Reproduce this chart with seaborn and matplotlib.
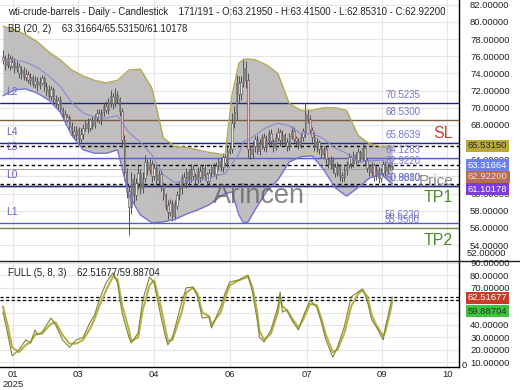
import matplotlib
matplotlib.use("Agg")
import numpy as np
import pandas as pd
import seaborn as sns
import matplotlib.pyplot as plt
from matplotlib.lines import Line2D

sns.set_theme(style="white")
plt.rcParams['font.family'] = ['Liberation Sans', 'DejaVu Sans']

# ---------------- data ----------------
first_open = 75.9
closes = [75.6, 75.0, 75.8, 74.9, 75.3, 74.6,
          74.8, 74.0, 74.4, 73.6, 73.9, 73.2, 73.5, 72.8, 73.1,
          72.6, 72.9, 73.4, 72.5, 72.0, 71.4, 72.1, 71.0, 70.4, 70.8, 69.8,
          69.2, 68.6, 68.9, 67.8, 67.3, 66.8, 67.5, 66.4, 66.9,
          67.6, 68.2, 67.7, 68.5, 68.0, 68.9, 69.3, 68.6,
          69.5, 70.2, 69.7, 70.6, 71.3, 70.5, 71.4, 71.0,
          69.6, 66.2, 62.5, 60.2, 58.4,
          61.6, 59.8, 61.2, 62.4, 60.6, 61.8, 63.6,
          62.8, 63.4, 62.0, 62.9, 61.6, 62.2, 61.0,
          59.8, 58.6, 57.8, 58.9, 57.4, 58.6, 59.8,
          60.6, 61.9, 61.2, 62.5, 61.7, 62.8, 62.1,
          61.6, 62.6, 61.9, 62.9, 62.2, 61.5, 62.4, 63.0, 62.3, 63.2, 63.7, 63.1,
          64.2, 63.6, 64.9, 65.2,
          68.2, 69.4, 72.8, 71.6, 72.9, 74.6, 73.2,
          65.2,
          64.6, 65.5, 66.3, 65.0, 65.8, 66.6, 65.4, 66.2, 67.0, 66.1, 65.4, 66.5, 67.1, 66.2,
          66.8, 66.0, 65.6, 66.7, 67.3, 66.4, 66.1, 65.7, 66.6, 67.2,
          69.2, 68.6, 67.4,
          66.6, 65.4, 66.0, 65.2, 64.6, 65.1, 64.0, 63.4, 63.9,
          63.0, 62.4, 63.2, 62.1, 61.9, 62.7,
          63.4, 64.2, 63.6, 64.4, 63.9, 64.8, 64.2, 65.3,
          63.9, 63.0, 62.5, 63.3, 62.0, 62.7, 61.8, 62.4,
          63.4, 62.6, 63.1, 63.2195, 62.922]
wick_up = [0.8, 0.5, 0.6, 0.4, 0.7, 0.5, 0.6, 0.4, 0.5, 0.3,
           0.6, 0.4, 0.5, 0.3, 0.6, 0.5, 0.7, 0.4, 0.3, 0.5,
           0.6, 0.4, 0.3, 0.5, 0.4, 0.6, 0.3, 0.5, 0.4, 0.3,
           0.5, 0.6, 0.4, 0.3, 0.7, 0.5, 0.4, 0.6, 0.3, 0.5,
           0.4, 0.6, 0.5, 0.4, 0.3, 0.6, 0.5, 0.8, 0.4, 0.9,
           0.5, 0.3, 0.4, 0.6, 0.5, 0.8, 0.9, 0.7, 0.6, 0.8,
           0.5, 0.7, 0.9, 0.4, 0.6, 0.5, 0.7, 0.4, 0.6, 0.5,
           0.4, 0.3, 0.6, 0.5, 0.4, 0.6, 0.5, 0.7, 0.4, 0.6,
           0.5, 0.4, 0.6, 0.5, 0.3, 0.5, 0.6, 0.4, 0.5, 0.3,
           0.5, 0.4, 0.6, 0.5, 0.4, 0.6, 0.5, 0.4, 0.7, 0.6,
           1.2, 0.8, 1.0, 0.9, 0.8, 1.2, 0.9, 0.8, 0.5, 0.6,
           0.4, 0.5, 0.6, 0.4, 0.5, 0.6, 0.4, 0.5, 0.3, 0.6,
           0.5, 0.4, 0.6, 0.3, 0.5, 0.4, 0.6, 0.5, 0.3, 0.4,
           0.5, 0.4, 1.4, 0.7, 0.5, 0.4, 0.6, 0.5, 0.3, 0.4,
           0.5, 0.4, 0.3, 0.5, 0.4, 0.6, 0.5, 0.3, 0.4, 0.5,
           0.4, 0.5, 0.3, 0.6, 0.4, 0.5, 0.3, 0.7, 0.4, 0.3,
           0.5, 0.4, 0.3, 0.5, 0.4, 0.6, 0.5, 0.3, 0.4, 0.2,
           0.1955]
wick_dn = [0.5, 0.6, 0.4, 0.5, 0.3, 0.6, 0.4, 0.5, 0.6, 0.4,
           0.5, 0.3, 0.6, 0.4, 0.5, 0.6, 0.4, 0.3, 0.5, 0.6,
           0.4, 0.5, 0.6, 0.3, 0.5, 0.4, 0.6, 0.5, 0.3, 0.5,
           0.6, 0.4, 0.5, 0.7, 0.4, 0.5, 0.3, 0.6, 0.4, 0.5,
           0.3, 0.5, 0.4, 0.6, 0.5, 0.3, 0.4, 0.5, 0.6, 0.4,
           0.5, 0.6, 0.8, 0.9, 0.7, 3.2, 0.8, 0.9, 0.6, 0.7,
           0.6, 0.5, 0.4, 0.6, 0.5, 0.7, 0.4, 0.6, 0.5, 0.7,
           0.6, 0.5, 0.8, 0.4, 0.6, 0.5, 0.4, 0.5, 0.6, 0.4,
           0.5, 0.6, 0.4, 0.5, 0.6, 0.4, 0.5, 0.3, 0.6, 0.5,
           0.4, 0.5, 0.3, 0.6, 0.4, 0.5, 0.6, 0.4, 0.5, 0.3,
           0.5, 0.6, 0.8, 0.9, 0.7, 0.5, 0.9, 1.0, 0.6, 0.5,
           0.6, 0.4, 0.5, 0.6, 0.4, 0.5, 0.6, 0.4, 0.5, 0.3,
           0.4, 0.6, 0.5, 0.4, 0.6, 0.5, 0.3, 0.4, 0.6, 0.5,
           0.4, 0.5, 0.6, 0.4, 0.5, 0.6, 0.4, 0.5, 0.6, 0.4,
           0.5, 0.6, 0.4, 0.5, 0.6, 0.5, 0.4, 0.6, 0.5, 0.4,
           0.5, 0.4, 0.6, 0.5, 0.4, 0.3, 0.5, 0.4, 0.6, 0.5,
           0.4, 0.6, 0.5, 0.4, 0.6, 0.5, 0.4, 0.5, 0.3, 0.4,
           0.0689]

bb_idx = [0, 5, 10, 15, 20, 25, 30, 35, 40, 45, 50, 55, 60, 65, 70, 75, 80, 85, 90, 95, 97,
          100, 103, 105, 107, 110, 115, 120, 125, 130, 135, 140, 145, 150, 155, 160, 165, 170]
bb_upper = [79.5, 79.1, 78.5, 77.7, 76.5, 75.6, 74.4, 73.7, 73.2, 72.9, 73.2, 74.4, 74.5, 72.3,
            66.5, 65.5, 65.4, 65.1, 64.8, 64.6, 64.5, 71.5, 75.2, 75.6, 75.7, 75.6, 75.0, 74.0,
            70.5, 69.7, 69.7, 70.0, 70.0, 69.7, 66.8, 65.8, 65.5, 65.5315]
bb_mid = [75.5, 75.6, 75.3, 74.7, 73.7, 72.5, 70.6, 69.4, 68.9, 68.8, 69.1, 67.1, 66.0, 64.5,
          62.2, 61.3, 61.5, 61.6, 61.8, 62.2, 62.3, 63.5, 64.6, 66.1, 66.2, 66.8, 67.7, 68.2,
          67.9, 67.0, 67.0, 66.4, 65.3, 64.7, 63.7, 63.8, 63.9, 63.3166]
bb_lower = [71.4, 72.1, 72.2, 71.7, 70.9, 69.5, 66.8, 65.1, 64.7, 64.7, 65.1, 59.8, 57.5, 56.6,
            56.7, 57.0, 57.6, 58.1, 58.7, 59.7, 60.0, 60.2, 57.5, 56.6, 56.7, 58.1, 60.2, 61.6,
            63.7, 64.3, 64.4, 62.8, 60.7, 59.7, 60.7, 61.8, 62.3, 61.1018]

stoch_idx = [0, 2, 4, 7, 10, 12, 14, 15, 17, 21, 23, 26, 29, 32, 35, 38, 40, 42, 45, 48,
             50, 52, 55, 56, 59, 61, 64, 66, 69, 71, 72, 74, 78, 80, 83, 85, 87, 90, 91, 95,
             97, 99, 103, 107, 109, 111, 112, 114, 117, 120, 121, 122, 124, 126, 129, 131, 134, 137, 139, 141,
             144, 146, 149, 152, 155, 157, 159, 161, 163, 166, 167, 169, 170]
stoch_k = [50.5, 33.5, 15, 20, 28, 25.5, 36, 32, 34, 45.6, 40, 28, 22, 28, 30, 42, 48, 60, 74, 82,
           74, 49.7, 30, 25.5, 33.5, 60, 78.7, 74, 46.5, 30, 24, 30, 58, 70, 70.6, 62.6, 45.6, 46.5, 37.6, 54.5,
           65.8, 74.7, 76.3, 80.3, 65.8, 44, 30, 26.3, 36, 54.5, 66.6, 50.5, 52, 44, 36, 46.5, 60, 54.5, 42, 28,
           14, 22, 38.4, 62.6, 66.6, 69, 60, 44, 38.4, 28, 38.4, 54.5, 62.5168]
stoch_d = [55, 40, 22, 18, 24, 26, 32, 33, 33, 41, 42, 32, 25, 25, 28, 37, 45, 55, 68, 79,
           77, 56, 36, 27, 30, 52, 72, 76, 54, 36, 27, 28, 50, 66, 70, 65, 50, 47, 40, 50,
           62, 72, 76, 79, 70, 50, 35, 28, 33, 50, 62, 55, 52, 46, 38, 44, 57, 56, 45, 32,
           18, 20, 33, 55, 65, 68, 63, 48, 40, 31, 35, 50, 59.887]

level_prices = [70.5235, 68.53, 65.8639, 64.1283, 62.922, 60.908, 60.881, 56.623, 55.95]
level_texts = ["70.5235", "68.5300", "65.8639", "64.1283", "62.9220", "60.9080", "60.8810", "56.6230", "55.9500"]
level_colors = ["#23237e", "#7d5e3c", "#28288a", "#5c5cc8", "#9a9a9a", "#2a2a7c", "#2a2a7c", "#5a5ac2", "#6c8c3c"]
left_tags = ["L2", "L4", "L3", "L0", "L1"]
left_tag_prices = [70.5235, 65.8639, 64.1283, 60.908, 56.623]
bb_lines = [65.5315, 63.3166, 61.1018]

x_tick_pos = [4.4, 32.8, 65.9, 99.1, 132.8, 165.5, 193.9]
x_tick_labels = ["01\n2025", "03", "04", "06", "07", "09", "10"]

# ---------------- figure ----------------
W, H = 520, 390
fig = plt.figure(figsize=(5.2, 3.9), dpi=100)
fig.patch.set_facecolor("white")
ax1 = fig.add_axes([0, 1 - 260 / H, 459 / W, 260 / H])
ax2 = fig.add_axes([0, 1 - 367 / H, 459 / W, (367 - 261) / H])

xmin, xmax = -1.3, 199.1
fs_tick = 6.8
grid_c = "#e6e6e6"

# candles
n = len(closes)
idx = np.arange(n)
opens = [first_open] + closes[:-1]
df = pd.DataFrame({"i": idx, "o": opens, "c": closes})
df["hi"] = df[["o", "c"]].max(axis=1) + np.array(wick_up)
df["lo"] = df[["o", "c"]].min(axis=1) - np.array(wick_dn)

ax1.set_xlim(xmin, xmax)
ax1.set_ylim(52.26, 82.56)
ax1.set_yticks(np.arange(54, 83, 2))
ax1.set_xticks(x_tick_pos)
ax1.grid(True, color=grid_c, lw=0.8)
ax1.set_axisbelow(True)

bb = pd.DataFrame({"i": bb_idx, "up": bb_upper, "mid": bb_mid, "lo": bb_lower})
ax1.fill_between(bb["i"], bb["lo"], bb["up"], color="#bdbbbb", alpha=0.95, lw=0, zorder=1)

for p, t, col in zip(level_prices, level_texts, level_colors):
    ax1.axhline(p, color=col, lw=1.0 if col != "#9a9a9a" else 0.6, zorder=2)
for p in bb_lines:
    ax1.axhline(p, color="black", lw=1.0, ls=(0, (2.5, 2)), zorder=2)

ax1.vlines(df["i"], df["lo"], df["hi"], color="#505050", lw=0.7, zorder=3)
up = df["c"] >= df["o"]
ax1.bar(df["i"][up], (df["c"] - df["o"])[up].abs() + 0.05, bottom=df["o"][up], width=0.6,
        color="#dfeedd", edgecolor="#505050", lw=0.4, zorder=4)
ax1.bar(df["i"][~up], (df["c"] - df["o"])[~up].abs() + 0.05, bottom=df["c"][~up], width=0.6,
        color="#eec4c8", edgecolor="#505050", lw=0.4, zorder=4)

sns.lineplot(data=bb, x="i", y="up", ax=ax1, color="#b3aa55", lw=1.0, zorder=5, legend=False)
sns.lineplot(data=bb, x="i", y="mid", ax=ax1, color="#8a8ad2", lw=0.8, zorder=5, legend=False)
sns.lineplot(data=bb, x="i", y="lo", ax=ax1, color="#7474d6", lw=1.0, zorder=5, legend=False)

# level labels
for p, t in zip(level_prices, level_texts):
    ax1.text(166.8, p + 0.35, t, color="#7676cc", fontsize=7, va="bottom", ha="left", zorder=6)
for t, p in zip(left_tags, left_tag_prices):
    ax1.text(1.5, p + 0.7, t, color="#6666c4", fontsize=7.5, va="bottom", ha="left", zorder=6)

ax1.text(196.4, 67.06, "SL", color="#c0452e", fontsize=11.5, ha="right", va="center", zorder=6)
ax1.text(196.4, 59.49, "TP1", color="#4c8a2c", fontsize=11.5, ha="right", va="center", zorder=6)
ax1.text(196.4, 54.48, "TP2", color="#4c8a2c", fontsize=11.5, ha="right", va="center", zorder=6)
ax1.text(196.6, 61.45, "Price", color="#8a8a8a", fontsize=11, ha="right", va="center", zorder=6)
ax1.text(91.7, 58.9, "Arincen", color="#5e5e5e", alpha=0.75, fontsize=19.5, ha="left",
         va="baseline", zorder=7)

ax1.set_xlabel("")
ax1.set_ylabel("")
ax1.yaxis.tick_right()
ax1.set_yticklabels([f"{v:.5f}" for v in np.arange(54, 83, 2)])
ax1.tick_params(axis="y", length=0, pad=8, labelsize=fs_tick, labelcolor="#222222")
ax1.tick_params(axis="x", length=0, labelbottom=False)
for s in ["left", "top", "bottom"]:
    ax1.spines[s].set_visible(False)
ax1.spines["right"].set_color("black")
ax1.spines["right"].set_linewidth(1.0)

# stochastic
st = pd.DataFrame({"i": stoch_idx, "k": stoch_k, "d": stoch_d})
ax2.set_xlim(xmin, xmax)
ax2.set_ylim(6.1, 91.6)
ax2.set_yticks(np.arange(10, 91, 10))
ax2.set_xticks(x_tick_pos)
ax2.grid(True, color=grid_c, lw=0.8)
ax2.set_axisbelow(True)
ax2.axhline(62.5168, color="black", lw=0.9, ls=(0, (2.5, 2)), zorder=2)
ax2.axhline(59.887, color="black", lw=0.9, ls=(0, (2.5, 2)), zorder=2)
sns.lineplot(data=st, x="i", y="d", ax=ax2, color="#b9b04a", lw=1.5, zorder=3, legend=False)
sns.lineplot(data=st, x="i", y="k", ax=ax2, color="#7a8a30", lw=0.8, zorder=4, legend=False)
ax2.set_xlabel("")
ax2.set_ylabel("")
ax2.yaxis.tick_right()
ax2.set_yticklabels([f"{v:.5f}" for v in np.arange(10, 91, 10)])
ax2.set_xticklabels(x_tick_labels)
ax2.tick_params(axis="y", length=0, pad=8, labelsize=fs_tick, labelcolor="#222222")
ax2.tick_params(axis="x", length=0, pad=2, labelsize=fs_tick, labelcolor="#222222")
for s in ["left", "top"]:
    ax2.spines[s].set_visible(False)
for s in ["right", "bottom"]:
    ax2.spines[s].set_color("black")
    ax2.spines[s].set_linewidth(1.0)

# separator line across full width
fig.add_artist(Line2D([0, 1], [1 - 260.5 / H, 1 - 260.5 / H], color="#222222", lw=1.0,
                      transform=fig.transFigure))

# header texts
fig.text(8 / W, 1 - 12 / H,
         "wti-crude-barrels - Daily - Candlestick    171/191 - O:63.21950 - H:63.41500 - L:62.85310 - C:62.92200",
         fontsize=6.9, color="#222222", va="center", ha="left")
fig.text(8 / W, 1 - 29 / H, "BB (20, 2)    63.31664/65.53150/61.10178",
         fontsize=6.9, color="#222222", va="center", ha="left")
fig.text(8 / W, 1 - 273 / H, "FULL (5, 8, 3)    62.51677/59.88704",
         fontsize=6.9, color="#222222", va="center", ha="left")

# edge tick labels
fig.text(467 / W, 1 - 254 / H, "52.00000", fontsize=fs_tick, color="#222222", va="center", ha="left")
fig.text(462 / W, 1 - 366 / H, "0", fontsize=fs_tick, color="#222222", va="center", ha="left")

# value tags
tags = [("65.53150", 146, "#b8aa34", "#2a2a2a"),
        ("63.31664", 165, "#6c80f0", "white"),
        ("62.92200", 177, "#b86c50", "#f4e0e0"),
        ("61.10178", 189, "#7b3be0", "white"),
        ("62.51677", 298, "#cc3a28", "white"),
        ("59.88704", 311, "#3ec43e", "#1a3a1a")]
for txt, yp, bg, fg in tags:
    fig.text(468 / W, 1 - yp / H, txt, fontsize=fs_tick, color=fg, va="center", ha="left",
             bbox=dict(boxstyle="square,pad=0.18", fc=bg, ec="none"))

fig.savefig("out.png", dpi=100, facecolor="white")
